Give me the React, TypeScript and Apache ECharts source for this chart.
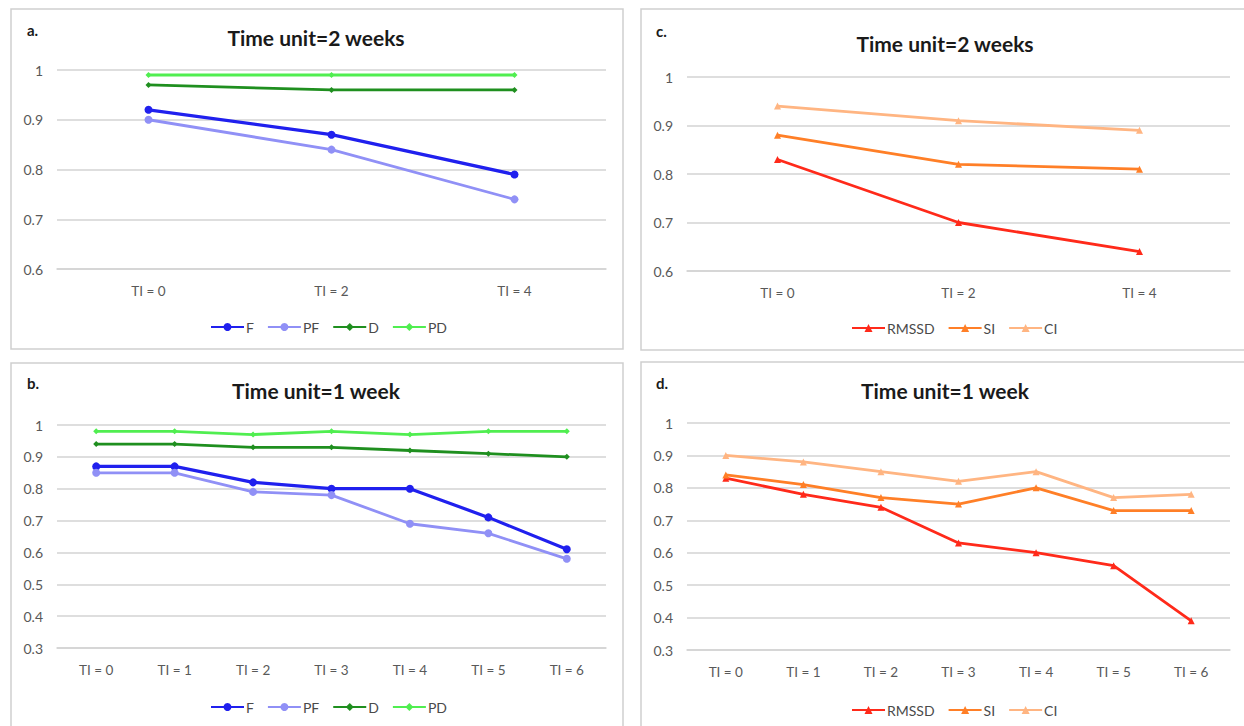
import React, { useEffect, useRef } from "react";
import * as echarts from "echarts";

const catsTwoWeeks = ["TI = 0", "TI = 2", "TI = 4"];
const catsOneWeek = ["TI = 0", "TI = 1", "TI = 2", "TI = 3", "TI = 4", "TI = 5", "TI = 6"];

// Panel a (time unit = 2 weeks)
const aF = [0.92, 0.87, 0.79];
const aPF = [0.9, 0.84, 0.74];
const aD = [0.97, 0.96, 0.96];
const aPD = [0.99, 0.99, 0.99];

// Panel b (time unit = 1 week)
const bF = [0.87, 0.87, 0.82, 0.8, 0.8, 0.71, 0.61];
const bPF = [0.85, 0.85, 0.79, 0.78, 0.69, 0.66, 0.58];
const bD = [0.94, 0.94, 0.93, 0.93, 0.92, 0.91, 0.9];
const bPD = [0.98, 0.98, 0.97, 0.98, 0.97, 0.98, 0.98];

// Panel c (time unit = 2 weeks)
const cRMSSD = [0.83, 0.7, 0.64];
const cSI = [0.88, 0.82, 0.81];
const cCI = [0.94, 0.91, 0.89];

// Panel d (time unit = 1 week)
const dRMSSD = [0.83, 0.78, 0.74, 0.63, 0.6, 0.56, 0.39];
const dSI = [0.84, 0.81, 0.77, 0.75, 0.8, 0.73, 0.73];
const dCI = [0.9, 0.88, 0.85, 0.82, 0.85, 0.77, 0.78];

const panelLetters = ["a.", "b.", "c.", "d."];
const panelTitles = ["Time unit=2 weeks", "Time unit=1 week", "Time unit=2 weeks", "Time unit=1 week"];
const legendLeft = ["F", "PF", "D", "PD"];
const legendRight = ["RMSSD", "SI", "CI"];

const FONT = "Lato, 'Open Sans', sans-serif";
const GRID_GREY = "#d3d3d3";
const TEXT_GREY = "#595959";

const colors: Record<string, string> = {
  F: "#2020ee",
  PF: "#9090f6",
  D: "#1f8f1f",
  PD: "#50ee50",
  RMSSD: "#ff2a1a",
  SI: "#ff7f27",
  CI: "#ffb582",
};
const symbols: Record<string, string> = {
  F: "circle",
  PF: "circle",
  D: "diamond",
  PD: "diamond",
  RMSSD: "triangle",
  SI: "triangle",
  CI: "triangle",
};
const symbolSizes: Record<string, number> = {
  F: 8,
  PF: 8,
  D: 6,
  PD: 6,
  RMSSD: 7,
  SI: 7,
  CI: 7,
};

function mkSeries(name: string, data: number[], idx: number) {
  return {
    type: "line",
    name,
    data,
    xAxisIndex: idx,
    yAxisIndex: idx,
    symbol: symbols[name],
    symbolSize: symbolSizes[name],
    showSymbol: true,
    lineStyle: { color: colors[name], width: name === "F" ? 3.2 : 2.8 },
    itemStyle: { color: colors[name] },
    emphasis: { disabled: true },
  };
}

export default function App() {
  const ref = useRef<HTMLDivElement>(null);

  useEffect(() => {
    if (!ref.current) return;
    const chart = echarts.init(ref.current, undefined, { renderer: "svg" });

    const grids = [
      { left: 57, top: 70, width: 549, height: 199 },
      { left: 57, top: 425, width: 549, height: 223 },
      { left: 687, top: 77, width: 543, height: 194 },
      { left: 687, top: 423, width: 543, height: 227 },
    ];
    const cats = [catsTwoWeeks, catsOneWeek, catsTwoWeeks, catsOneWeek];
    const mins = [0.6, 0.3, 0.6, 0.3];

    const xAxis = grids.map((_, i) => ({
      type: "category",
      gridIndex: i,
      data: cats[i],
      boundaryGap: true,
      axisLine: { show: true, lineStyle: { color: GRID_GREY, width: 1.5 } },
      axisTick: { show: false },
      axisLabel: { color: TEXT_GREY, fontSize: 13.5, fontFamily: FONT, margin: 15 },
    }));
    const yAxis = grids.map((_, i) => ({
      type: "value",
      gridIndex: i,
      min: mins[i],
      max: 1,
      interval: 0.1,
      axisLine: { show: false },
      axisTick: { show: false },
      axisLabel: {
        color: TEXT_GREY,
        fontSize: 14,
        fontFamily: FONT,
        margin: 14,
        formatter: (v: number) => String(Math.round(v * 10) / 10),
      },
      splitLine: { show: true, lineStyle: { color: GRID_GREY, width: 1.5 } },
    }));

    const series = [
      mkSeries("F", aF, 0),
      mkSeries("PF", aPF, 0),
      mkSeries("D", aD, 0),
      mkSeries("PD", aPD, 0),
      mkSeries("F", bF, 1),
      mkSeries("PF", bPF, 1),
      mkSeries("D", bD, 1),
      mkSeries("PD", bPD, 1),
      mkSeries("RMSSD", cRMSSD, 2),
      mkSeries("SI", cSI, 2),
      mkSeries("CI", cCI, 2),
      mkSeries("RMSSD", dRMSSD, 3),
      mkSeries("SI", dSI, 3),
      mkSeries("CI", dCI, 3),
    ];

    const legendPos = [
      { left: 205, top: 315, data: legendLeft },
      { left: 205, top: 695, data: legendLeft },
      { left: 846, top: 316, data: legendRight },
      { left: 846, top: 698, data: legendRight },
    ];
    const legend = legendPos.map((p) => ({
      left: p.left,
      top: p.top,
      data: p.data,
      itemWidth: 33,
      itemHeight: 10,
      itemGap: 13,
      selectedMode: false,
      textStyle: { color: "#4a4a4a", fontSize: 14, fontFamily: FONT, padding: [0, 0, 0, -3] },
    }));

    const titlePos = [
      { x: 316, y: 37 },
      { x: 316, y: 390 },
      { x: 945, y: 43 },
      { x: 945, y: 390 },
    ];
    const letterPos = [
      { x: 27, y: 30 },
      { x: 27, y: 383 },
      { x: 656, y: 31 },
      { x: 656, y: 383 },
    ];
    const borders = [
      { x: 11, y: 9, w: 612, h: 340 },
      { x: 11, y: 363, w: 612, h: 380 },
      { x: 641, y: 9, w: 620, h: 341 },
      { x: 641, y: 362, w: 620, h: 380 },
    ];

    const graphic: any[] = [];
    borders.forEach((b) => {
      graphic.push({
        type: "rect",
        shape: { x: b.x, y: b.y, width: b.w, height: b.h },
        style: { fill: "none", stroke: "#cfcfcf", lineWidth: 1.5 },
        z: -1,
        silent: true,
      });
    });
    titlePos.forEach((t, i) => {
      graphic.push({
        type: "text",
        x: t.x,
        y: t.y,
        style: {
          text: panelTitles[i],
          fill: "#1a1a1a",
          font: `bold 21px ${FONT}`,
          textAlign: "center",
          textVerticalAlign: "middle",
        },
        silent: true,
      });
    });
    letterPos.forEach((t, i) => {
      graphic.push({
        type: "text",
        x: t.x,
        y: t.y,
        style: {
          text: panelLetters[i],
          fill: "#1a1a1a",
          font: `bold 15px ${FONT}`,
          textAlign: "left",
          textVerticalAlign: "middle",
        },
        silent: true,
      });
    });

    chart.setOption({
      animation: false,
      backgroundColor: "#ffffff",
      grid: grids.map((g) => ({ ...g, containLabel: false })),
      xAxis,
      yAxis,
      legend,
      series,
      graphic,
    });

    return () => chart.dispose();
  }, []);

  return (
    <div
      ref={ref}
      style={{ position: "fixed", left: 0, top: 0, width: 1244, height: 726, background: "#fff" }}
    />
  );
}
